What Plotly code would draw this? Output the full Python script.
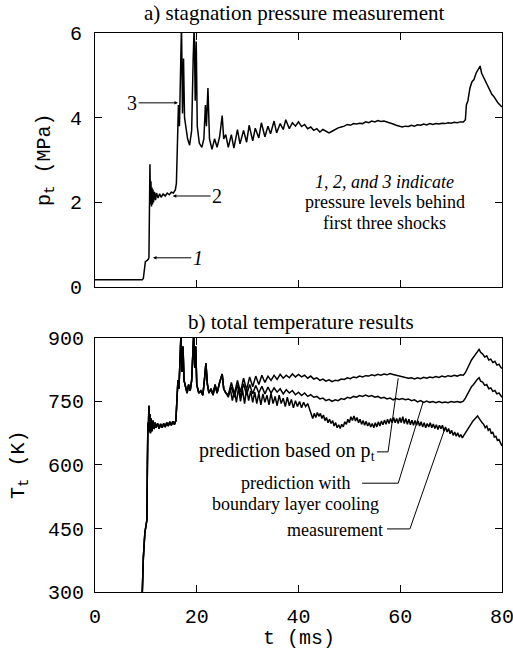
import plotly.graph_objects as go

# ---------------- data ----------------
t_p = [0, 4, 9.3, 9.5, 9.7, 9.9, 10.2, 10.5, 10.6, 10.7, 10.8, 10.9, 11.0, 11.1, 11.2, 11.3, 11.4, 11.5,
       11.7, 11.9, 12.1, 12.4, 12.7, 13.0, 13.4, 13.8, 14.2, 14.6, 15.0, 15.4, 15.8, 16.0, 16.2, 16.4,
       16.6, 16.8, 17.0, 17.2, 17.4, 17.6, 17.9, 18.2, 18.6, 19.0, 19.3, 19.5, 19.7, 19.9, 20.1, 20.5,
       21.0, 21.4, 21.7, 21.9, 22.2, 22.5, 23.0, 23.5, 24.0, 24.5, 25.0, 25.3, 25.7,
       26.2, 26.8, 27.3, 28.0, 28.5, 29.2, 29.8, 30.3, 31.0, 31.5, 32.2, 32.7, 33.4, 34.0, 34.5, 35.2,
       35.7, 36.4, 37.0, 37.5, 38.2, 38.8, 39.4, 40.0, 40.6, 41.2, 41.8, 42.4, 43.0, 43.6, 44.2, 44.8,
       45.4, 46.0, 46.6, 47.2, 47.8, 48.4, 49.0, 49.6, 50.2, 50.8, 51.4, 52.0, 52.6, 53.2, 53.8, 54.4,
       55.0, 55.6, 56.2, 56.8, 57.4, 58.0, 58.6, 59.2, 59.8, 60.4, 61.0, 61.6, 62.2, 62.8, 63.4, 64.0,
       64.6, 65.2, 65.8, 66.4, 67.0, 67.6, 68.2, 68.8, 69.4, 70.0, 70.6, 71.2, 71.8, 72.4, 72.8, 73.0,
       73.3, 73.7, 74.1, 74.5, 74.9, 75.3, 75.7, 76.0, 76.4, 76.8, 77.2, 77.6, 78.0, 78.4, 78.8, 79.2,
       79.6, 80.0]
p_t = [0.17, 0.17, 0.17, 0.2, 0.5, 0.6, 0.62, 0.66, 0.7, 2.0, 2.9, 1.95, 2.5, 1.9, 2.35, 1.95, 2.3, 2.0,
       2.25, 2.05, 2.22, 2.1, 2.2, 2.12, 2.2, 2.15, 2.22, 2.18, 2.24, 2.22, 2.3, 2.45, 3.6, 4.3,
       3.8, 5.0, 6.2, 4.1, 5.4, 4.0, 3.7, 3.5, 3.35, 3.7, 5.4, 6.2, 4.4, 5.8, 3.8, 3.4,
       3.3, 3.5, 4.3, 3.8, 4.7, 3.5, 3.25, 3.5, 3.3, 3.55, 4.05, 3.5, 3.6,
       3.3, 3.6, 3.28, 3.72, 3.38, 3.7, 3.42, 3.82, 3.45, 3.75, 3.52, 3.88, 3.55, 3.8, 3.62, 3.92,
       3.64, 3.86, 3.72, 3.95, 3.74, 3.88, 3.8, 3.9, 3.79, 3.84, 3.74, 3.78, 3.7, 3.74, 3.66, 3.72,
       3.68, 3.64, 3.68, 3.72, 3.76, 3.78, 3.8, 3.84, 3.82, 3.86, 3.85, 3.87, 3.86, 3.9, 3.88, 3.92,
       3.9, 3.93, 3.91, 3.92, 3.9, 3.88, 3.85, 3.82, 3.8, 3.78, 3.8, 3.79, 3.82, 3.8, 3.83, 3.82,
       3.85, 3.83, 3.86, 3.84, 3.86, 3.85, 3.87, 3.86, 3.88, 3.87, 3.89, 3.88, 3.9, 3.9, 3.95, 4.3,
       4.4, 4.7, 4.85, 4.9, 5.05, 5.15, 5.22, 5.05, 4.95, 4.85, 4.75, 4.65, 4.55, 4.5, 4.42, 4.35,
       4.3, 4.25]

# shared early part of the three temperature traces
t_T_early = [9.3, 9.5, 9.8, 10.0, 10.2, 10.3, 10.4, 10.5, 10.6, 10.7, 10.8, 10.9, 11.0, 11.2, 11.4, 11.6,
             11.8, 12.0, 12.3, 12.6, 12.9, 13.2, 13.5, 13.8, 14.1, 14.4, 14.7, 15.0, 15.3, 15.6, 15.9,
             16.1, 16.3, 16.5, 16.7, 16.9, 17.1, 17.3, 17.5, 17.8, 18.1, 18.4, 18.7, 19.0, 19.2, 19.4,
             19.6, 19.8, 20.0, 20.4, 20.8, 21.2, 21.5, 21.8, 22.1, 22.4, 22.8, 23.2, 23.6, 24.0, 24.5,
             25.0, 25.3, 25.7]
T_early = [300, 380, 440, 455, 470, 600, 700, 690, 740, 680, 720, 675, 710, 680, 705, 685,
           700, 688, 698, 686, 697, 688, 698, 690, 700, 692, 702, 694, 703, 696, 705,
           760, 800, 780, 860, 910, 820, 880, 800, 780, 770, 790, 775, 800, 880, 910,
           830, 880, 790, 770, 775, 765, 800, 840, 790, 770, 780, 765, 790, 770, 795,
           815, 780, 770]

t_pred = [26.2, 26.8, 27.4, 28.0, 28.6, 29.2, 29.8, 30.4, 31.0, 31.6, 32.2, 32.8, 33.4, 34.0, 34.6, 35.2,
          35.8, 36.4, 37.0, 37.6, 38.2, 38.8, 39.4, 40.0, 40.6, 41.2, 41.8, 42.4, 43.0, 43.6, 44.2, 44.8,
          45.4, 46.0, 46.6, 47.2, 47.8, 48.4, 49.0, 49.6, 50.2, 50.8, 51.4, 52.0, 52.6, 53.2, 53.8, 54.4,
          55.0, 55.6, 56.2, 56.8, 57.4, 58.0, 58.6, 59.2, 59.8, 60.4, 61.0, 61.6, 62.2, 62.8, 63.4, 64.0,
          64.6, 65.2, 65.8, 66.4, 67.0, 67.6, 68.2, 68.8, 69.4, 70.0, 70.6, 71.2, 71.8, 72.4, 72.8, 73.2,
          73.6, 74.0, 74.4, 74.8, 75.2, 75.5, 75.8, 76.2, 76.6, 77.0, 77.4, 77.8, 78.2, 78.6, 79.0, 79.4,
          79.8, 80.0]
T_pred_pt = [765, 795, 768, 800, 772, 805, 778, 808, 785, 810, 790, 812, 795, 810, 800, 812,
             802, 814, 805, 812, 806, 815, 808, 814, 808, 812, 805, 810, 803, 806, 800, 803,
             798, 801, 797, 800, 799, 803, 802, 806, 804, 808, 806, 810, 808, 811, 810, 813,
             811, 814, 812, 815, 813, 816, 814, 812, 810, 808, 806, 805, 806, 803, 806, 804,
             807, 805, 808, 806, 809, 807, 810, 808, 811, 809, 812, 810, 813, 812, 818, 830,
             838, 848, 855, 862, 870, 873, 866, 862, 855, 858, 848, 850, 842, 845, 836, 838,
             830, 828]
T_pred_bl = [765, 785, 760, 790, 762, 792, 765, 790, 768, 788, 770, 786, 768, 784, 770, 782,
             772, 780, 768, 778, 770, 776, 766, 772, 764, 770, 762, 766, 760, 762, 756, 758,
             752, 755, 750, 754, 752, 757, 755, 760, 758, 762, 760, 764, 762, 765, 762, 764,
             760, 762, 758, 760, 756, 758, 754, 757, 755, 757, 754, 756, 752, 754, 749, 752,
             748, 751, 748, 750, 747, 750, 747, 749, 747, 750, 748, 750, 748, 751, 758, 768,
             775, 785, 790, 797, 803, 806, 798, 796, 788, 790, 780, 782, 774, 776, 768, 770,
             762, 760]

t_meas = [26.2, 26.6, 27.0, 27.4, 27.8, 28.2, 28.6, 29.0, 29.4, 29.8, 30.2, 30.6, 31.0, 31.4, 31.8, 32.2,
          32.6, 33.0, 33.4, 33.8, 34.2, 34.6, 35.0, 35.4, 35.8, 36.2, 36.6, 37.0, 37.4, 37.8, 38.2, 38.6,
          39.0, 39.4, 39.8, 40.2, 40.6, 41.0, 41.4, 41.8, 42.2, 42.5, 42.8, 43.1, 43.4, 43.7, 44.0, 44.3,
          44.6, 44.9, 45.2, 45.5, 45.8, 46.1, 46.4, 46.7, 47.0, 47.3, 47.6, 47.9, 48.2, 48.5, 48.8, 49.1,
          49.4, 49.7, 50.0, 50.3, 50.6, 50.9, 51.2, 51.5, 51.8, 52.1, 52.4, 52.7, 53.0, 53.3, 53.6, 53.9,
          54.2, 54.5, 54.8, 55.1, 55.4, 55.7, 56.0, 56.3, 56.6, 56.9, 57.2, 57.5, 57.8, 58.1, 58.4, 58.7,
          59.0, 59.3, 59.6, 59.9, 60.2, 60.5, 60.8, 61.1, 61.4, 61.7, 62.0, 62.3, 62.6, 62.9, 63.2, 63.5,
          63.8, 64.1, 64.4, 64.7, 65.0, 65.3, 65.6, 65.9, 66.2, 66.5, 66.8, 67.1, 67.4, 67.7, 68.0, 68.3,
          68.6, 68.9, 69.2, 69.5, 69.8, 70.1, 70.4, 70.7, 71.0, 71.3, 71.6, 71.9, 72.2, 72.5, 72.8, 73.1,
          73.4, 73.7, 74.0, 74.3, 74.6, 74.9, 75.2, 75.5, 75.8, 76.1, 76.4, 76.7, 77.0, 77.3, 77.6, 77.9,
          78.2, 78.5, 78.8, 79.1, 79.4, 79.7, 80.0]
T_meas = [760, 780, 752, 775, 748, 782, 750, 778, 745, 780, 752, 775, 748, 772, 745, 770,
          742, 768, 748, 765, 742, 770, 745, 762, 740, 765, 745, 758, 738, 760, 740, 755,
          735, 752, 738, 750, 735, 748, 738, 745, 730, 718, 710, 722, 712, 724, 715, 722,
          710, 718, 705, 712, 700, 708, 698, 705, 692, 700, 688, 695, 686, 696, 690, 702,
          696, 708, 700, 714, 705, 716, 704, 712, 700, 708, 696, 705, 694, 703, 692, 700,
          690, 698, 688, 700, 690, 702, 692, 704, 695, 706, 696, 708, 698, 710, 700, 712,
          700, 710, 698, 712, 700, 714, 698, 710, 696, 708, 695, 706, 694, 705, 694, 704,
          692, 702, 690, 700, 688, 698, 690, 700, 688, 697, 686, 695, 684, 694, 686, 694,
          680, 690, 678, 686, 674, 682, 670, 678, 668, 676, 666, 672, 664, 670, 676, 682,
          688, 694, 700, 704, 708, 712, 716, 710, 704, 700, 696, 688, 692, 682, 686, 674,
          678, 666, 668, 658, 660, 650, 645]

x_ticks = [0, 20, 40, 60, 80]
p_ticks = [0, 2, 4, 6]
T_ticks = [300, 450, 600, 750, 900]

# ---------------- figure ----------------
MONO = "Liberation Mono"
SERIF = "Liberation Serif"
LW = 1.5

fig = go.Figure()
fig.add_trace(go.Scatter(x=t_p, y=p_t, mode="lines", line=dict(color="black", width=LW),
                         xaxis="x", yaxis="y", showlegend=False))
for tl, Tl in [(t_pred, T_pred_pt), (t_pred, T_pred_bl), (t_meas, T_meas)]:
    fig.add_trace(go.Scatter(x=t_T_early + tl, y=T_early + Tl, mode="lines",
                             line=dict(color="black", width=LW),
                             xaxis="x2", yaxis="y2", showlegend=False))

axis_common = dict(showline=True, linecolor="black", linewidth=1, mirror="ticks",
                   ticks="inside", ticklen=7, tickwidth=1, tickcolor="black",
                   showgrid=False, zeroline=False, ticklabeloverflow="allow",
                   tickfont=dict(family=MONO, size=20, color="black"))

top_dom = [0.5456, 1.0]
bot_dom = [0.0, 0.4544]

fig.update_layout(
    width=513, height=649,
    margin=dict(l=95, r=11, t=33, b=57, autoexpand=False),
    paper_bgcolor="white", plot_bgcolor="white",
    xaxis=dict(**axis_common, domain=[0, 1], range=[0, 80], tickvals=x_ticks,
               showticklabels=False, anchor="y"),
    yaxis=dict(**axis_common, domain=top_dom, range=[0, 6], tickvals=p_ticks,
               ticklabelstandoff=8, anchor="x"),
    xaxis2=dict(**axis_common, domain=[0, 1], range=[0, 80], tickvals=x_ticks,
                ticklabelstandoff=6, anchor="y2"),
    yaxis2=dict(**axis_common, domain=bot_dom, range=[300, 900], tickvals=T_ticks,
                ticklabelstandoff=6, anchor="x2"),
)

title_font = dict(family=SERIF, size=21, color="black")
serif = dict(family=SERIF, size=18, color="black")
label_font = dict(family=SERIF, size=20, color="black")
mono = dict(family=MONO, size=20, color="black")

annotations = [
    # panel titles
    dict(text="a) stagnation pressure measurement", xref="paper", yref="paper",
         x=0.489, y=1.0, yshift=20, xanchor="center", yanchor="middle", showarrow=False, font=title_font),
    dict(text="b) total temperature results", xref="paper", yref="paper",
         x=0.506, y=bot_dom[1], yshift=16, xanchor="center", yanchor="middle", showarrow=False, font=title_font),
    # axis titles
    dict(text="p<sub>t</sub> (MPa)", xref="paper", yref="paper", x=0, xshift=-50,
         y=(top_dom[0] + top_dom[1]) / 2, textangle=-90, xanchor="center", yanchor="middle",
         showarrow=False, font=mono),
    dict(text="T<sub>t</sub> (K)", xref="paper", yref="paper", x=0, xshift=-75,
         y=(bot_dom[0] + bot_dom[1]) / 2, textangle=-90, xanchor="center", yanchor="middle",
         showarrow=False, font=mono),
    dict(text="t (ms)", xref="paper", yref="paper", x=0.5, y=0, yshift=-46,
         xanchor="center", yanchor="middle", showarrow=False, font=mono),
    # top panel notes (one line each)
    dict(text="<i>1, 2, and 3 indicate</i>", xref="x", yref="y", x=57.0, y=2.49,
         xanchor="center", yanchor="middle", showarrow=False, font=serif, borderpad=0),
    dict(text="pressure levels behind", xref="x", yref="y", x=57.0, y=2.0,
         xanchor="center", yanchor="middle", showarrow=False, font=serif, borderpad=0),
    dict(text="first three shocks", xref="x", yref="y", x=57.0, y=1.51,
         xanchor="center", yanchor="middle", showarrow=False, font=serif, borderpad=0),
    dict(text="3", xref="x", yref="y", x=16.3, y=4.35, ax=7.3, ay=4.35, axref="x", ayref="y",
         showarrow=True, arrowhead=2, arrowsize=0.7, arrowwidth=1, arrowcolor="black", font=label_font),
    dict(text="2", xref="x", yref="y", x=15.3, y=2.15, ax=24.0, ay=2.15, axref="x", ayref="y",
         showarrow=True, arrowhead=2, arrowsize=0.7, arrowwidth=1, arrowcolor="black", font=label_font),
    dict(text="<i>1</i>", xref="x", yref="y", x=11.4, y=0.69, ax=20.2, ay=0.69, axref="x", ayref="y",
         showarrow=True, arrowhead=2, arrowsize=0.7, arrowwidth=1, arrowcolor="black", font=label_font),
    # bottom panel labels
    dict(text="prediction based on p<sub>t</sub>", xref="x2", yref="y2", x=55.2, y=631,
         xanchor="right", yanchor="middle", showarrow=False, font=label_font, borderpad=0),
    dict(text="prediction with", xref="x2", yref="y2", x=39.5, y=557,
         xanchor="center", yanchor="middle", showarrow=False, font=serif, borderpad=0),
    dict(text="boundary layer cooling", xref="x2", yref="y2", x=39.5, y=507,
         xanchor="center", yanchor="middle", showarrow=False, font=serif, borderpad=0),
    dict(text="measurement", xref="x2", yref="y2", x=56.8, y=447,
         xanchor="right", yanchor="middle", showarrow=False, font=serif, borderpad=0),
]
fig.update_layout(annotations=annotations)

# leader lines for the bottom-panel labels
leaders = [
    [(55.4, 631), (57.6, 631), (59.6, 805)],
    [(52.5, 557), (59.6, 557), (64.5, 749)],
    [(57.4, 449), (61.9, 449), (68.8, 687)],
]
for pts in leaders:
    path = "M " + " L ".join(f"{x},{y}" for x, y in pts)
    fig.add_shape(type="path", path=path, xref="x2", yref="y2",
                  line=dict(color="black", width=1))

fig.write_html("out.html")
